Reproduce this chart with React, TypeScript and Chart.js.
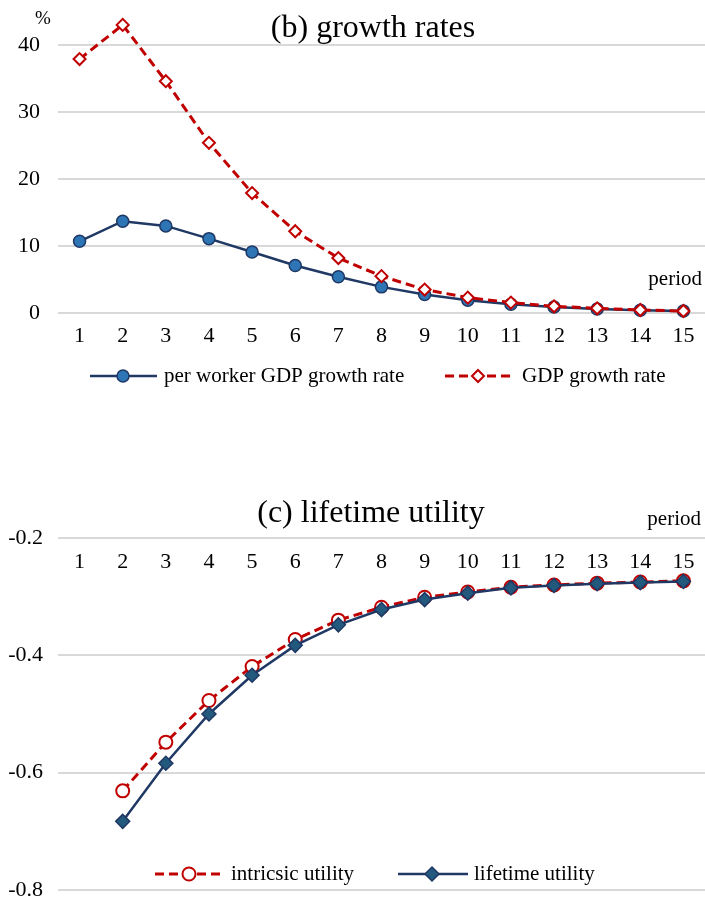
import React, { useEffect, useRef } from "react";
import { Chart, registerables } from "chart.js";

Chart.register(...registerables);

const periods = ["1", "2", "3", "4", "5", "6", "7", "8", "9", "10", "11", "12", "13", "14", "15"];
const perWorkerGrowth = [10.7, 13.7, 13.0, 11.1, 9.1, 7.1, 5.4, 3.9, 2.75, 1.9, 1.3, 0.9, 0.6, 0.4, 0.3];
const gdpGrowth = [37.9, 43.0, 34.6, 25.4, 17.9, 12.2, 8.2, 5.5, 3.5, 2.3, 1.55, 1.0, 0.7, 0.45, 0.3];
const intrinsicUtility = [null, -0.631, -0.548, -0.477, -0.419, -0.373, -0.34, -0.318, -0.301, -0.292, -0.284, -0.28, -0.277, -0.275, -0.273];
const lifetimeUtility = [null, -0.683, -0.584, -0.5, -0.434, -0.383, -0.348, -0.322, -0.305, -0.294, -0.285, -0.281, -0.278, -0.276, -0.274];
const growthTicks = [0, 10, 20, 30, 40];
const utilityTicks = [-0.8, -0.6, -0.4, -0.2];

const NAVY = "#1F3864";
const RED = "#C00000";
const BLUE_FILL = "#2E75B6";
const TEAL_FILL = "#22597D";
const GRID = "#D9D9D9";
const FONT = '"Liberation Serif", "Times New Roman", serif';

function zeroPad(s) {
  s.paddingTop = 0;
  s.paddingBottom = 0;
  s.paddingLeft = 0;
  s.paddingRight = 0;
}

function drawMarker(ctx, style, x, y, r, fill, stroke, lw) {
  ctx.beginPath();
  if (style === "circle") {
    ctx.arc(x, y, r, 0, Math.PI * 2);
  } else {
    ctx.moveTo(x, y - r);
    ctx.lineTo(x + r, y);
    ctx.lineTo(x, y + r);
    ctx.lineTo(x - r, y);
    ctx.closePath();
  }
  ctx.fillStyle = fill;
  ctx.fill();
  ctx.lineWidth = lw;
  ctx.strokeStyle = stroke;
  ctx.stroke();
}

function legendItem(ctx, it, y) {
  ctx.save();
  ctx.strokeStyle = it.color;
  ctx.lineWidth = it.lw;
  ctx.setLineDash(it.dash || []);
  ctx.beginPath();
  ctx.moveTo(it.x0, y);
  ctx.lineTo(it.x1, y);
  ctx.stroke();
  ctx.setLineDash([]);
  drawMarker(ctx, it.marker, it.mx, y, it.r, it.fill, it.stroke, it.mlw);
  ctx.fillStyle = "#000";
  ctx.font = "21px " + FONT;
  ctx.textAlign = "left";
  ctx.textBaseline = "middle";
  ctx.fillText(it.label, it.tx, y);
  ctx.restore();
}

const textPluginB = {
  id: "textB",
  afterDraw(chart) {
    const ctx = chart.ctx;
    ctx.save();
    ctx.fillStyle = "#000";
    ctx.textBaseline = "middle";
    ctx.textAlign = "center";
    ctx.font = "32px " + FONT;
    ctx.fillText("(b) growth rates", 373, 29);
    ctx.font = "19px " + FONT;
    ctx.fillText("%", 43, 19);
    ctx.textAlign = "right";
    ctx.font = "21px " + FONT;
    ctx.fillText("period", 702, 279);
    ctx.restore();
    legendItem(ctx, { x0: 90, x1: 157, mx: 123, tx: 164, color: NAVY, lw: 2.5, marker: "circle", r: 6, fill: BLUE_FILL, stroke: NAVY, mlw: 1.5, label: "per worker GDP growth rate" }, 376);
    legendItem(ctx, { x0: 445, x1: 513, mx: 478, tx: 522, color: RED, lw: 3, dash: [9, 5], marker: "diamond", r: 6, fill: "#fff", stroke: RED, mlw: 2, label: "GDP growth rate" }, 376);
  },
};

const textPluginC = {
  id: "textC",
  afterDraw(chart) {
    const ctx = chart.ctx;
    ctx.save();
    ctx.fillStyle = "#000";
    ctx.textBaseline = "middle";
    ctx.textAlign = "center";
    ctx.font = "32px " + FONT;
    ctx.fillText("(c) lifetime utility", 371, 84);
    ctx.textAlign = "right";
    ctx.font = "21px " + FONT;
    ctx.fillText("period", 701, 89);
    ctx.restore();
    legendItem(ctx, { x0: 155, x1: 225, mx: 189, tx: 231, color: RED, lw: 3, dash: [9, 5], marker: "circle", r: 6.5, fill: "#fff", stroke: RED, mlw: 2, label: "intricsic utility" }, 444);
    legendItem(ctx, { x0: 398, x1: 468, mx: 432, tx: 474, color: NAVY, lw: 2.5, marker: "diamond", r: 7, fill: TEAL_FILL, stroke: NAVY, mlw: 1.5, label: "lifetime utility" }, 444);
  },
};

function GrowthChart() {
  const ref = useRef(null);
  useEffect(() => {
    const chart = new Chart(ref.current, {
      type: "line",
      data: {
        labels: periods,
        datasets: [
          {
            label: "GDP growth rate",
            data: gdpGrowth,
            borderColor: RED,
            borderWidth: 3,
            borderDash: [9, 5],
            pointStyle: "rectRot",
            pointRadius: 6,
            pointBackgroundColor: "#fff",
            pointBorderColor: RED,
            pointBorderWidth: 2,
            tension: 0,
            clip: false,
          },
          {
            label: "per worker GDP growth rate",
            data: perWorkerGrowth,
            borderColor: NAVY,
            borderWidth: 2.5,
            pointStyle: "circle",
            pointRadius: 6,
            pointBackgroundColor: BLUE_FILL,
            pointBorderColor: NAVY,
            pointBorderWidth: 1.5,
            tension: 0,
            clip: false,
          },
        ],
      },
      options: {
        responsive: false,
        animation: false,
        layout: { autoPadding: false, padding: { top: 11.5, left: 0, right: 0, bottom: 0 } },
        plugins: { legend: { display: false }, title: { display: false }, tooltip: { enabled: false } },
        scales: {
          x: {
            offset: true,
            grid: { display: false, drawTicks: false },
            border: { display: false },
            ticks: { color: "#000", font: { family: FONT, size: 22 }, padding: 10, maxRotation: 0, autoSkip: false },
            afterFit: (s) => { s.height = 107; zeroPad(s); },
          },
          y: {
            min: 0,
            max: 45,
            afterBuildTicks: (s) => { s.ticks = growthTicks.map((v) => ({ value: v })); },
            grid: { color: GRID, lineWidth: 2, drawTicks: false },
            border: { display: false },
            ticks: { color: "#000", font: { family: FONT, size: 22 }, padding: 18 },
            afterFit: (s) => { s.width = 58; zeroPad(s); },
          },
        },
      },
      plugins: [textPluginB],
    });
    return () => chart.destroy();
  }, []);
  return <canvas ref={ref} width={705} height={420} style={{ position: "absolute", left: 0, top: 0 }} />;
}

function UtilityChart() {
  const ref = useRef(null);
  useEffect(() => {
    const chart = new Chart(ref.current, {
      type: "line",
      data: {
        labels: periods,
        datasets: [
          {
            label: "lifetime utility",
            data: lifetimeUtility,
            borderColor: NAVY,
            borderWidth: 2.5,
            pointStyle: "rectRot",
            pointRadius: 7,
            pointBackgroundColor: TEAL_FILL,
            pointBorderColor: NAVY,
            pointBorderWidth: 1.5,
            tension: 0,
            clip: false,
          },
          {
            label: "intricsic utility",
            data: intrinsicUtility,
            borderColor: RED,
            borderWidth: 3,
            borderDash: [9, 5],
            pointStyle: "circle",
            pointRadius: 6.5,
            pointBackgroundColor: "#fff",
            pointBorderColor: RED,
            pointBorderWidth: 2,
            tension: 0,
            clip: false,
          },
        ],
      },
      options: {
        responsive: false,
        animation: false,
        layout: { autoPadding: false, padding: { top: 108, left: 0, right: 0, bottom: 12 } },
        plugins: { legend: { display: false }, title: { display: false }, tooltip: { enabled: false } },
        scales: {
          x: {
            position: { y: -0.2 },
            offset: true,
            grid: { display: false, drawTicks: false },
            border: { display: false },
            ticks: { color: "#000", font: { family: FONT, size: 22 }, padding: 11, maxRotation: 0, autoSkip: false },
            afterFit: (s) => { zeroPad(s); },
          },
          y: {
            min: -0.8,
            max: -0.2,
            afterBuildTicks: (s) => { s.ticks = utilityTicks.map((v) => ({ value: v })); },
            grid: { color: GRID, lineWidth: 2, drawTicks: false },
            border: { display: false },
            ticks: { color: "#000", font: { family: FONT, size: 22 }, padding: 15, callback: (v) => Number(v).toFixed(1) },
            afterFit: (s) => { s.width = 58; zeroPad(s); },
          },
        },
      },
      plugins: [textPluginC],
    });
    return () => chart.destroy();
  }, []);
  return <canvas ref={ref} width={705} height={472} style={{ position: "absolute", left: 0, top: 430 }} />;
}

export default function App() {
  return (
    <div style={{ position: "absolute", left: 0, top: 0, width: 705, height: 902, background: "#fff" }}>
      <GrowthChart />
      <UtilityChart />
    </div>
  );
}
